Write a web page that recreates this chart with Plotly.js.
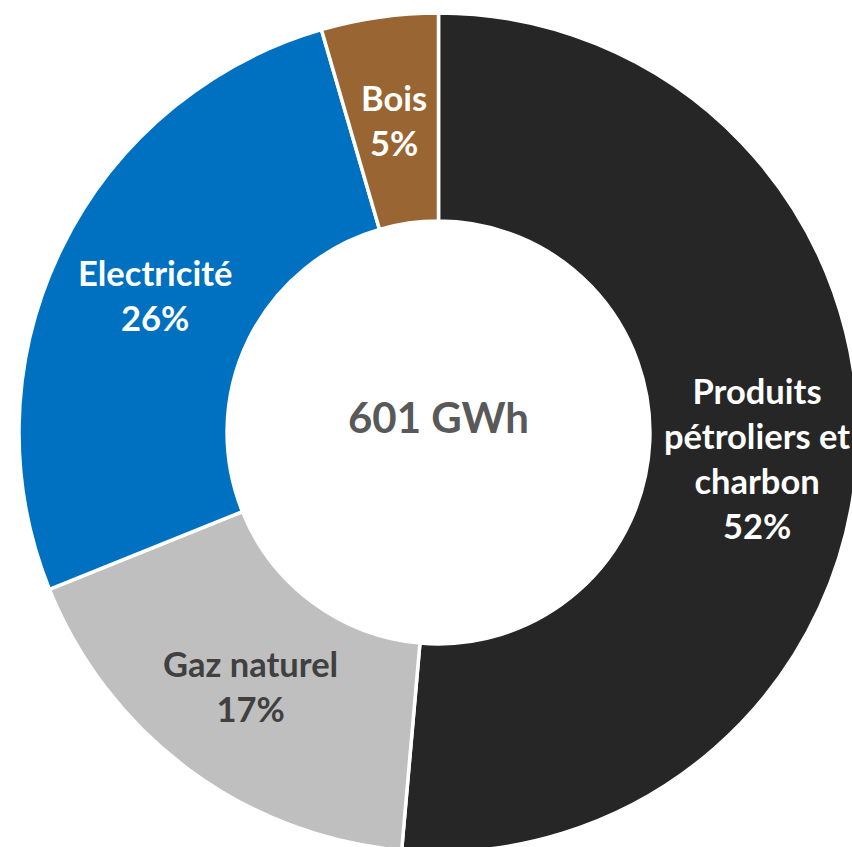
<!DOCTYPE html>
<html><head><meta charset="utf-8">
<script src="https://cdn.plot.ly/plotly-3.0.1.min.js"></script>
<style>html,body{margin:0;padding:0;overflow:hidden;background:#fff;width:852px;height:847px}#chart{width:877px;height:852px}</style>
</head><body><div id="chart"></div>
<script>
const categories = ["Produits<br>pétroliers et<br>charbon", "Gaz naturel", "Electricité", "Bois"];
const values = [51.4, 17.5, 26.6, 4.5];
const pctLabels = ["52%", "17%", "26%", "5%"];
const colors = ["#262626", "#BFBFBF", "#0070C0", "#996633"];
const textColors = ["#FFFFFF", "#404040", "#FFFFFF", "#FFFFFF"];
const centerText = "601 GWh";

const W = 877, H = 852, T = 13;
const plotH = H - T;
const R = Math.min(W, plotH) / 2;
const hole = 0.504;
const rText = R * (1 + hole) / 2;
const total = values.reduce((a, b) => a + b, 0);

const annotations = [];
let cum = 0;
values.forEach((v, i) => {
  const mid = (cum + v / 2) / total * 2 * Math.PI;
  cum += v;
  const dx = rText * Math.sin(mid), dy = rText * Math.cos(mid);
  const nLines = categories[i].split('<br>').length;
  annotations.push({
    xref: 'paper', yref: 'paper',
    x: (W / 2 + dx) / W, y: (plotH / 2 + dy) / plotH,
    xanchor: 'center', yanchor: 'middle', showarrow: false,
    xshift: nLines > 1 ? 3 : 0,
    yshift: nLines > 1 ? -12 : 0,
    text: '<b>' + categories[i] + '<br>' + pctLabels[i] + '</b>',
    font: {family: 'Lato, "Open Sans", sans-serif', size: 34.5, color: textColors[i]}
  });
});
annotations.push({
  xref: 'paper', yref: 'paper', x: 0.5, y: 0.5 + 16 / plotH,
  xanchor: 'center', yanchor: 'middle', showarrow: false,
  text: '<b>' + centerText + '</b>',
  font: {family: 'Lato, "Open Sans", sans-serif', size: 42, color: '#595959'}
});

Plotly.newPlot('chart', [{
  type: 'pie',
  labels: categories,
  values: values,
  sort: false,
  direction: 'clockwise',
  rotation: 0,
  hole: hole,
  textinfo: 'none',
  hoverinfo: 'none',
  marker: {colors: colors, line: {color: '#FFFFFF', width: 3.5}},
  showlegend: false
}], {
  width: W, height: H,
  margin: {l: 0, r: 0, t: T, b: 0, pad: 0},
  paper_bgcolor: '#FFFFFF',
  showlegend: false,
  annotations: annotations
}, {displayModeBar: false, staticPlot: true});
</script></body></html>
